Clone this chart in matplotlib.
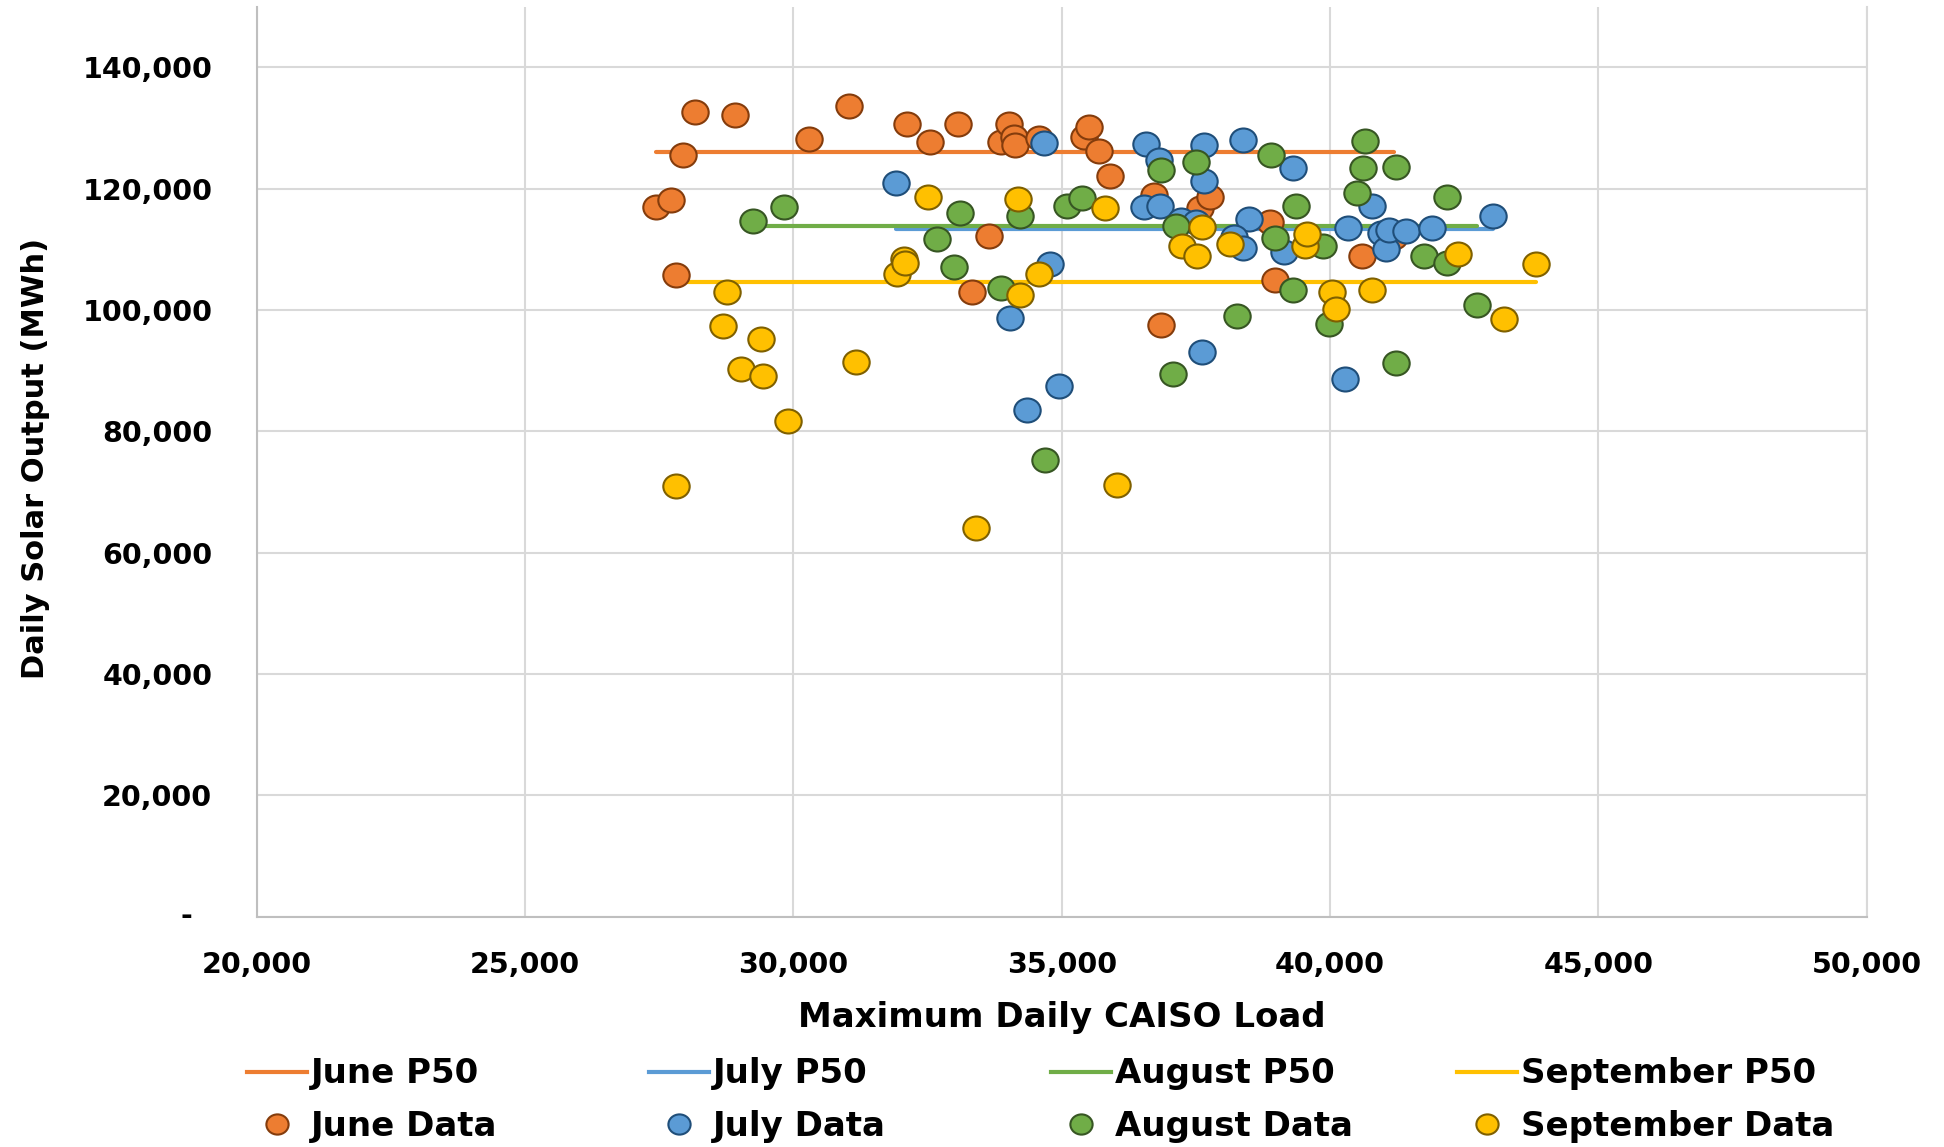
import matplotlib
matplotlib.use('Agg')
import matplotlib.pyplot as plt
from matplotlib.lines import Line2D
from matplotlib.path import Path
from matplotlib.transforms import Affine2D, offset_copy
from matplotlib.ticker import FuncFormatter

plt.rcParams['font.family'] = ['DejaVu Sans']
plt.rcParams['font.weight'] = 'bold'

# data (load in MW, output in MWh)
june_load = [27433, 27726, 27806, 27937, 28173, 28919, 30286, 31038, 32120, 32543,
             33076, 33641, 33337, 33860, 34014, 34120, 34139, 34573, 35412, 35505,
             35692, 35897, 36717, 36842, 37575, 37762, 38880, 38968, 40602, 41192]
june_out = [117000, 118200, 105800, 125600, 132600, 132200, 128200, 133600, 130700, 127650,
            130700, 112200, 102970, 127650, 130600, 128600, 127200, 128300, 128600, 130200,
            126200, 122100, 118900, 97600, 116750, 118560, 114540, 105020, 108870, 112050]

july_load = [31914, 34030, 34666, 34778, 34345, 34941, 36567, 36810, 37658, 38376,
             39303, 37645, 36531, 36829, 37215, 37495, 38488, 38208, 38384, 39141,
             40341, 40789, 40944, 41037, 41098, 41410, 41896, 43031, 37623, 40271]
july_out = [120870, 98620, 127480, 107660, 83540, 87440, 127310, 124720, 127150, 128030,
            123350, 121260, 117020, 117130, 114820, 114540, 114930, 112060, 110300, 109580,
            113440, 117120, 112780, 110140, 113160, 113000, 113440, 115520, 93060, 88640]

aug_load = [29249, 29820, 32685, 32996, 33100, 33872, 34215, 34697, 35103, 35383,
            36855, 37495, 37135, 37079, 38898, 39364, 38968, 39868, 40651, 40621,
            41229, 40495, 41751, 42174, 42174, 39316, 38261, 39985, 41229, 42745]
aug_out = [114650, 117000, 111790, 107050, 115970, 103580, 115470, 75280, 117120, 118390,
           123070, 124340, 113870, 89490, 125550, 117180, 111950, 110520, 127870, 123350,
           123520, 119230, 108920, 107760, 118560, 103360, 99000, 97740, 91300, 100890]

sep_load = [27806, 28682, 28757, 29018, 29403, 29435, 29902, 31173, 31933, 32056,
            32088, 32504, 33412, 34190, 34215, 34573, 35798, 36022, 37233, 37526,
            37606, 38134, 39526, 39577, 40030, 40105, 40776, 42385, 43234, 43834]
sep_out = [70920, 97350, 102970, 90310, 95260, 89100, 81660, 91410, 106010, 108490,
           107760, 118610, 64150, 118280, 102420, 106010, 116750, 71200, 110570, 108920,
           113710, 110850, 110570, 112500, 102970, 100160, 103360, 109200, 98580, 107660]

months = ['June', 'July', 'August', 'September']
p50 = [126100, 113400, 113900, 104700]

fills = ['#ED7D31', '#5B9BD5', '#70AD47', '#FFC000']
edges = ['#843C0C', '#1F4E79', '#375623', '#7F6000']

loads = [june_load, july_load, aug_load, sep_load]
outs = [june_out, july_out, aug_out, sep_out]

W, H = 1944, 1147
fig = plt.figure(figsize=(W / 100, H / 100), dpi=100)
ax = fig.add_axes([256.7 / W, 1 - 916.7 / H, 1610 / W, 910 / H])

oval = Path.unit_circle().transformed(Affine2D().scale(1.1, 1.0))

# P50 lines span each month's load range
for i in range(4):
    ax.plot([min(loads[i]), max(loads[i])], [p50[i], p50[i]], color=fills[i],
            lw=3, solid_capstyle='round', zorder=2)

for i in range(4):
    ax.plot(loads[i], outs[i], ls='none', marker=oval, markersize=19,
            markerfacecolor=fills[i], markeredgecolor=edges[i], markeredgewidth=1.5,
            zorder=3)

ax.set_xlim(20000, 50000)
ax.set_ylim(0, 150000)
ax.set_xticks(range(20000, 50001, 5000))
ax.set_yticks(range(0, 140001, 20000))
ax.grid(True, color='#d9d9d9', lw=1.5, zorder=0)
ax.set_axisbelow(True)

ax.xaxis.set_major_formatter(FuncFormatter(lambda v, p: f'{int(v):,}'))
ax.yaxis.set_major_formatter(FuncFormatter(lambda v, p: '-' if v == 0 else f'{int(v):,}'))
ax.tick_params(length=0, labelsize=20.5)
ax.tick_params(axis='x', pad=25)
ax.tick_params(axis='y', pad=32)

ax.spines['top'].set_visible(False)
ax.spines['right'].set_color('#d9d9d9')
ax.spines['right'].set_linewidth(1.5)
for s in ['left', 'bottom']:
    ax.spines[s].set_color('#bfbfbf')
    ax.spines[s].set_linewidth(1.5)

fig.canvas.draw()
lbl0 = ax.get_yticklabels()[0]
lbl0.set_transform(offset_copy(lbl0.get_transform(), fig=fig, x=-20, y=4, units='dots'))

ax.set_xlabel('Maximum Daily CAISO Load', fontsize=24.5, fontweight='bold')
ax.xaxis.set_label_coords(0.5, -0.111)
ax.xaxis.label.set_va('center')
ax.set_ylabel('Daily Solar Output (MWh)', fontsize=22, fontweight='bold')
ax.yaxis.set_label_coords(-0.1377, 0.5033)
ax.yaxis.label.set_va('center')

# legend: one 2-row column per month
col_x = [247, 649, 1051, 1457]
for i in range(4):
    h_line = Line2D([], [], color=fills[i], lw=3)
    h_mark = Line2D([], [], ls='none', marker=oval, markersize=16,
                    markerfacecolor=fills[i], markeredgecolor=edges[i], markeredgewidth=1.5)
    leg = fig.legend([h_line, h_mark], [months[i] + ' P50', months[i] + ' Data'],
                     loc='center left', bbox_to_anchor=(col_x[i] / W, 1 - 1100 / H),
                     frameon=False, fontsize=24.5, handlelength=1.75, handletextpad=0.12,
                     borderpad=0, borderaxespad=0, labelspacing=0.56, numpoints=1)
    for t in leg.get_texts():
        t.set_fontweight('bold')

fig.savefig('out.png', dpi=100)
